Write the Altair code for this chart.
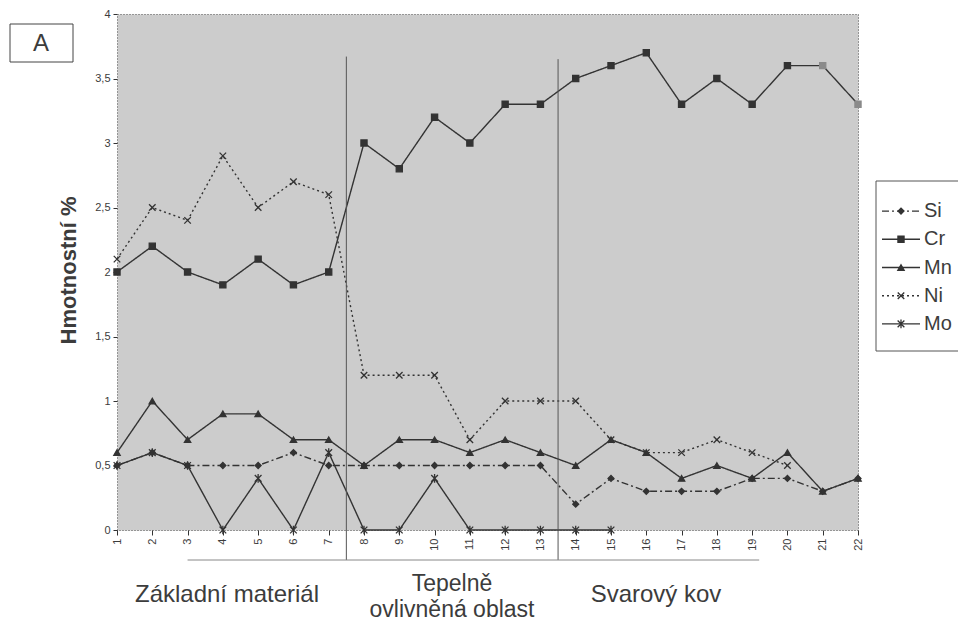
import altair as alt
import pandas as pd

# ---------------- data ----------------
x_pos = list(range(1, 23))
series = ["Si", "Cr", "Mn", "Ni", "Mo"]
si = [0.5, 0.6, 0.5, 0.5, 0.5, 0.6, 0.5, 0.5, 0.5, 0.5, 0.5, 0.5, 0.5, 0.2, 0.4, 0.3, 0.3, 0.3, 0.4, 0.4, 0.3, 0.4]
cr = [2.0, 2.2, 2.0, 1.9, 2.1, 1.9, 2.0, 3.0, 2.8, 3.2, 3.0, 3.3, 3.3, 3.5, 3.6, 3.7, 3.3, 3.5, 3.3, 3.6, 3.6, 3.3]
mn = [0.6, 1.0, 0.7, 0.9, 0.9, 0.7, 0.7, 0.5, 0.7, 0.7, 0.6, 0.7, 0.6, 0.5, 0.7, 0.6, 0.4, 0.5, 0.4, 0.6, 0.3, 0.4]
ni = [2.1, 2.5, 2.4, 2.9, 2.5, 2.7, 2.6, 1.2, 1.2, 1.2, 0.7, 1.0, 1.0, 1.0, 0.7, 0.6, 0.6, 0.7, 0.6, 0.5]
mo = [0.5, 0.6, 0.5, 0.0, 0.4, 0.0, 0.6, 0.0, 0.0, 0.4, 0.0, 0.0, 0.0, 0.0, 0.0]
y_ticks = [0, 0.5, 1, 1.5, 2, 2.5, 3, 3.5, 4]

separator_x = [7.5, 13.5]
separator_top = [3.67, 3.65]
bracket_from = [3]
bracket_to = [19.2]

region_labels = ["Základní materiál", "Tepelně", "ovlivněná oblast", "Svarový kov"]
y_title = "Hmotnostní %"
panel_label = "A"

# ---------------- styles ----------------
INK = "#333333"
TXT = "#3c3c3c"
FONT = "Liberation Sans"
dashes = [[7, 3, 2, 3], [1, 0], [1, 0], [2, 3], [1, 0]]
shapes = ["diamond", "square", "triangle-up",
          "M-1,-1L1,1M-1,1L1,-1",
          "M-1,-1L1,1M-1,1L1,-1M0,-1.3L0,1.3"]
sizes = [35, 45, 55, 45, 55]

rows = []
for name, vals in zip(series, [si, cr, mn, ni, mo]):
    for xv, v in zip(x_pos, vals):
        rows.append({"series": name, "x": xv, "value": v})
df = pd.DataFrame(rows)

dash_scale = alt.Scale(domain=series, range=dashes)
shape_scale = alt.Scale(domain=series, range=shapes)
size_scale = alt.Scale(domain=series, range=sizes)

xs = alt.Scale(domain=[1, 22], nice=False, zero=False)
ys = alt.Scale(domain=[0, 4], nice=False, zero=True)

x_axis = alt.Axis(
    values=x_pos, labelAngle=-90, labelFontSize=11, labelFont=FONT, labelColor=TXT,
    labelOverlap=False, labelFlush=False,
    tickSize=5, tickColor=INK, labelPadding=3, domain=False, grid=False, title=None)
y_axis = alt.Axis(
    values=y_ticks, labelExpr="replace(format(datum.value, '~g'), '.', ',')",
    labelFontSize=11, labelFont=FONT, labelColor=TXT, tickSize=4, tickColor=INK,
    labelOverlap=False, labelFlush=False,
    labelPadding=3, domain=False, grid=False, title=y_title,
    titleFont=FONT, titleFontSize=22, titleFontWeight="bold", titleColor=TXT,
    titleX=-49, titleY=256, titleAngle=-90, titleAlign="center", titleBaseline="middle")

lines = alt.Chart(df).mark_line(color=INK, strokeWidth=1.4).encode(
    x=alt.X("x:Q", scale=xs, axis=x_axis),
    y=alt.Y("value:Q", scale=ys, axis=y_axis),
    detail="series:N",
    strokeDash=alt.StrokeDash("series:N", scale=dash_scale, legend=None))

faded = "datum.series === 'Cr' && datum.x >= 21"
points = alt.Chart(df).mark_point(filled=True, strokeWidth=1.3, opacity=1).encode(
    x=alt.X("x:Q", scale=xs, axis=x_axis),
    y=alt.Y("value:Q", scale=ys, axis=y_axis),
    fill=alt.condition(faded, alt.value("#8a8a8a"), alt.value(INK)),
    stroke=alt.condition(faded, alt.value("#8a8a8a"), alt.value(INK)),
    shape=alt.Shape("series:N", scale=shape_scale, legend=None),
    size=alt.Size("series:N", scale=size_scale, legend=None))

sep_df = pd.DataFrame({"x": separator_x, "value": separator_top})
seps = alt.Chart(sep_df).mark_rule(color="#555555", strokeWidth=1).encode(
    x=alt.X("x:Q", scale=xs, axis=x_axis),
    y=alt.Y("value:Q", scale=ys, axis=y_axis),
    y2=alt.value(546))

br_df = pd.DataFrame({"x": bracket_from, "b": bracket_to})
bracket = alt.Chart(br_df).mark_rule(color="#888888", strokeWidth=1).encode(
    x=alt.X("x:Q", scale=xs, axis=x_axis), x2="b:Q", y=alt.value(546))

one = pd.DataFrame({"k": [0]})


def label(text, x, y, size=24, align="center", baseline="alphabetic"):
    return alt.Chart(one).mark_text(font=FONT, fontSize=size, color=TXT, align=align,
                                    baseline=baseline).encode(
        x=alt.value(x), y=alt.value(y), text=alt.value(text))


texts = [
    label(region_labels[0], 110, 588),
    label(region_labels[1], 335, 577, size=23),
    label(region_labels[2], 335, 603, size=23),
    label(region_labels[3], 539, 588),
]

a_box = alt.Chart(one).mark_rect(fill="white", stroke="#444444", strokeWidth=1).encode(
    x=alt.value(-107), x2=alt.value(-44), y=alt.value(10), y2=alt.value(48))
a_text = label(panel_label, -76, 30, size=24, baseline="middle")

main = alt.layer(lines, points, seps, bracket, *texts, a_box, a_text)

# ---------------- legend ----------------
leg_df = pd.DataFrame({"series": series})
ly = alt.Scale(domain=series, range=[183, 324], padding=0)
leg_box = alt.Chart(one).mark_rect(fill="white", stroke="#555555", strokeWidth=1).encode(
    x=alt.value(759), x2=alt.value(910), y=alt.value(167), y2=alt.value(337))
leg_lines = alt.Chart(leg_df).mark_rule(color=INK, strokeWidth=1.4).encode(
    x=alt.value(765), x2=alt.value(803),
    y=alt.Y("series:N", scale=ly, axis=None),
    strokeDash=alt.StrokeDash("series:N", scale=dash_scale, legend=None))
leg_pts = alt.Chart(leg_df).mark_point(filled=True, fill=INK, stroke=INK, strokeWidth=1.3, opacity=1).encode(
    x=alt.value(784),
    y=alt.Y("series:N", scale=ly, axis=None),
    shape=alt.Shape("series:N", scale=shape_scale, legend=None),
    size=alt.Size("series:N", scale=size_scale, legend=None))
leg_txt = alt.Chart(leg_df).mark_text(font=FONT, fontSize=20, color=TXT, align="left",
                                      baseline="middle").encode(
    x=alt.value(807), y=alt.Y("series:N", scale=ly, axis=None), text="series:N")
legend = alt.layer(leg_box, leg_lines, leg_pts, leg_txt)

chart = alt.layer(main, legend).resolve_scale(y="independent").properties(
    width=741, height=516,
    autosize=alt.AutoSizeParams(type="none"),
    padding={"left": 109, "top": 6, "right": 100, "bottom": 92},
    background="white",
).configure_view(
    fill="#cccccc", stroke="#444444", strokeDash=[1, 2], strokeWidth=1
).configure_axis(
    labelOverlap=False
)

chart.save("out.html", embed_options={"renderer": "svg", "actions": False})
